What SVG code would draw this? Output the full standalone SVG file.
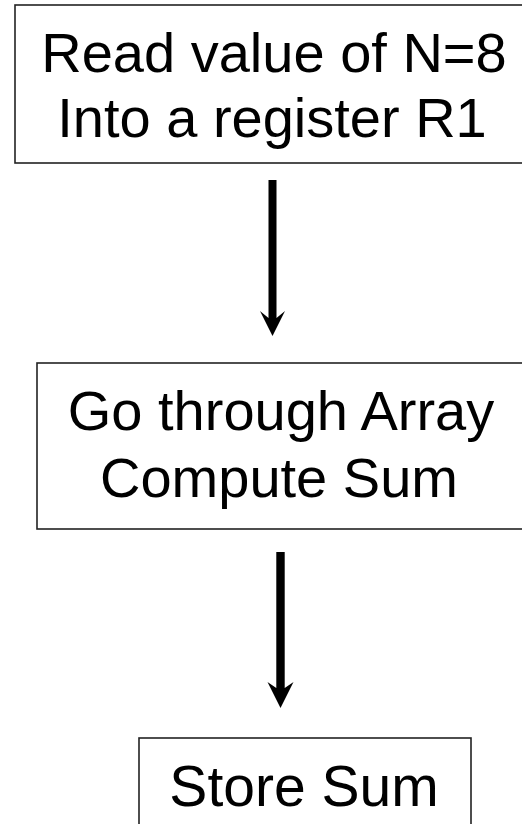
<svg xmlns="http://www.w3.org/2000/svg" width="522" height="824" viewBox="0 0 522 824">
<style>
.box{fill:#fff;stroke:#222;stroke-width:1.6}
.t{font-family:"Liberation Sans",Arial,sans-serif;font-size:56px;fill:#000;text-anchor:middle}
.arr{fill:#000;stroke:none}
</style>
<rect width="522" height="824" fill="#fff"/>
<g id="node1">
<rect class="box" x="15" y="5" width="515" height="158"/>
<text class="t" x="274" y="72">Read value of N=8</text>
<text class="t" x="272" y="137">Into a register R1</text>
</g>
<g id="node2">
<rect class="box" x="37" y="363" width="495" height="166"/>
<text class="t" x="281" y="430">Go through Array</text>
<text class="t" x="279" y="497">Compute Sum</text>
</g>
<g id="node3">
<rect class="box" x="139" y="738" width="332" height="100"/>
<text class="t" x="304" y="806" style="font-size:57px">Store Sum</text>
</g>
<g id="connectors">
<path class="arr" d="M268.5,180 H276.5 V318 L285,311 L272.5,336 L260,311 L268.5,318 Z"/>
<path class="arr" d="M276.3,552 H284.7 V688 L293.5,682 L280.5,708 L267.5,682 L276.3,688 Z"/>
</g>
</svg>
